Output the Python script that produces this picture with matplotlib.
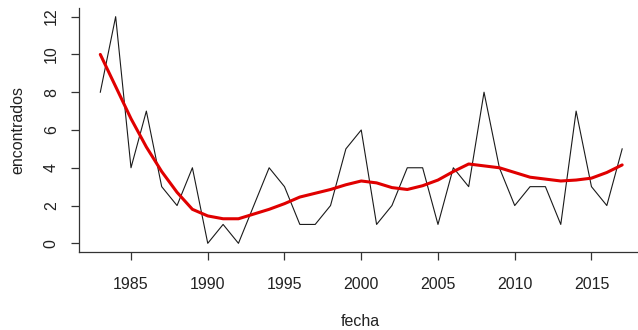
import numpy as np
import matplotlib
matplotlib.use("Agg")
import matplotlib.pyplot as plt

plt.rcParams['font.family'] = ['Liberation Sans', 'DejaVu Sans']

# conteo anual y curva suavizada
anios = list(range(1983, 2018))
encontrados = [8, 12, 4, 7, 3, 2, 4, 0, 1, 0, 2, 4, 3, 1, 1, 2, 5, 6, 1, 2,
               4, 4, 1, 4, 3, 8, 4, 2, 3, 3, 1, 7, 3, 2, 5]
suavizado = [10.0, 8.3, 6.6, 5.1, 3.8, 2.7, 1.8, 1.45, 1.3, 1.3, 1.55, 1.8,
             2.1, 2.45, 2.65, 2.85, 3.1, 3.3, 3.2, 2.95, 2.85, 3.05, 3.35,
             3.8, 4.2, 4.1, 4.0, 3.75, 3.5, 3.4, 3.3, 3.35, 3.45, 3.75, 4.15]
xticks = [1985, 1990, 1995, 2000, 2005, 2010, 2015]
yticks = [0, 2, 4, 6, 8, 10, 12]

fig = plt.figure(figsize=(6.38, 3.30), dpi=100)
ax = fig.add_axes([0.1245, 0.2352, 0.8834, 0.7418])

ax.plot(anios, encontrados, color='#1a1a1a', lw=0.8)
ax.plot(anios, suavizado, color='#e00000', lw=2.2, solid_capstyle='round')

ax.set_xlim(1981.64, 2018.36)
ax.set_ylim(-0.48, 12.48)
ax.set_xticks(xticks)
ax.set_yticks(yticks)

for s in ['top', 'right']:
    ax.spines[s].set_visible(False)
for s in ['left', 'bottom']:
    ax.spines[s].set_color('#333333')
    ax.spines[s].set_linewidth(0.9)

ax.tick_params(axis='both', length=6, width=0.9, color='#333333',
               labelsize=11.5, labelcolor='#222222')
ax.tick_params(axis='x', pad=12)
ax.tick_params(axis='y', pad=11, labelrotation=90)
# etiquetas del eje y giradas, con la linea base junto al eje
for lab in ax.get_yticklabels():
    lab.set_rotation_mode('anchor')
    lab.set_ha('center')
    lab.set_va('baseline')

ax.set_xlabel('fecha', fontsize=11.5, color='#222222')
ax.set_ylabel('encontrados', fontsize=11.5, color='#222222')
ax.xaxis.label.set_va('center')
ax.yaxis.label.set_va('center')
ax.xaxis.set_label_coords(0.498, -0.283)
ax.yaxis.set_label_coords(-0.110, 0.5)

fig.savefig('out.png', dpi=100)
